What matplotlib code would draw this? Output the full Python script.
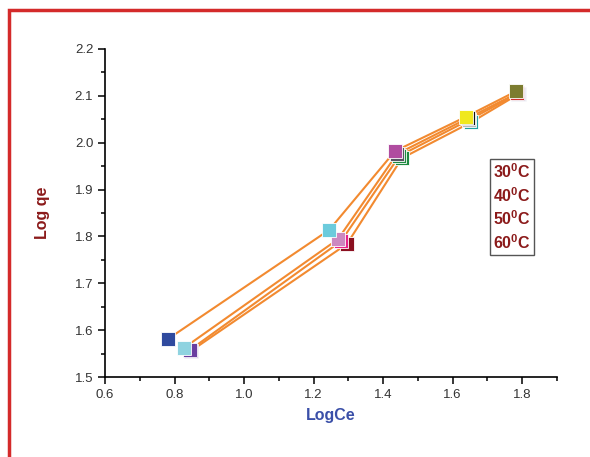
import matplotlib
matplotlib.use('Agg')
import matplotlib.pyplot as plt
from matplotlib.patches import Rectangle
from matplotlib.ticker import MultipleLocator

plt.rcParams['font.family'] = ['Liberation Sans', 'DejaVu Sans']
plt.rcParams['mathtext.fontset'] = 'custom'
plt.rcParams['mathtext.rm'] = 'Liberation Sans:bold'
plt.rcParams['mathtext.bf'] = 'Liberation Sans:bold'

# LogCe / Log qe for each temperature
temps = ['30', '40', '50', '60']
logce_30 = [0.781, 1.245, 1.434, 1.637, 1.783]
logqe_30 = [1.581, 1.814, 1.982, 2.055, 2.110]
logce_40 = [0.827, 1.270, 1.440, 1.643, 1.786]
logqe_40 = [1.562, 1.794, 1.976, 2.052, 2.106]
logce_50 = [0.845, 1.279, 1.447, 1.648, 1.788]
logqe_50 = [1.558, 1.790, 1.972, 2.049, 2.105]
logce_60 = [0.848, 1.296, 1.454, 1.654, 1.790]
logqe_60 = [1.556, 1.784, 1.967, 2.044, 2.104]

# every marker gets its own colour, as in the original Origin plot
colors_30 = ['#2f4a9e', '#6ccbdc', '#b04ca0', '#f0e81e', '#7c7c30']
colors_40 = ['#8fd3e0', '#cc88c0', '#555560', '#111111', '#d03030']
colors_50 = ['#6a3ea0', '#e8208a', '#1e8a40', '#b8b8b8', '#9090c0']
colors_60 = ['#6a3ea0', '#8b1020', '#1e8a40', '#20a0a0', '#9090c0']

series = [
    (logce_60, logqe_60, colors_60),
    (logce_50, logqe_50, colors_50),
    (logce_40, logqe_40, colors_40),
    (logce_30, logqe_30, colors_30),
]

fig = plt.figure(figsize=(5.9, 4.57), dpi=100)
fig.patches.append(Rectangle((9 / 590, -0.1), 1.1, (457 - 10) / 457 + 0.1,
                             transform=fig.transFigure, fill=False,
                             edgecolor='#d42a2a', linewidth=2.5))
ax = fig.add_axes([105 / 590, 80 / 457, 452 / 590, 328 / 457])

for x, y, cols in series:
    ax.plot(x, y, color='#f28a30', linewidth=1.5, zorder=2)
for x, y, cols in series:
    for xi, yi, c in zip(x, y, cols):
        ax.plot(xi, yi, marker='s', markersize=10, color=c,
                markeredgecolor='white', markeredgewidth=0.6, zorder=3)

ax.set_xlim(0.6, 1.9)
ax.set_ylim(1.5, 2.2)
ax.xaxis.set_minor_locator(MultipleLocator(0.1))
ax.yaxis.set_major_locator(MultipleLocator(0.1))
ax.yaxis.set_minor_locator(MultipleLocator(0.05))
ax.set_xticks([0.6, 0.8, 1.0, 1.2, 1.4, 1.6, 1.8])
ax.set_xticklabels(['0.6', '0.8', '1.0', '1.2', '1.4', '1.6', '1.8'])

for s in ['top', 'right']:
    ax.spines[s].set_visible(False)
for s in ['left', 'bottom']:
    ax.spines[s].set_linewidth(1.2)
ax.tick_params(which='major', direction='out', length=5, width=1.1,
               labelsize=9.5, labelcolor='#333333')
ax.tick_params(which='minor', direction='out', length=3, width=1.1)

ax.set_xlabel('LogCe', fontsize=11.5, fontweight='bold', color='#3a4fa8', labelpad=5)
ax.set_ylabel('Log qe', fontsize=11.5, fontweight='bold', color='#8b1a1a', labelpad=18)

label_text = '\n'.join(t + r'$^{0}$C' for t in temps)
ax.text(0.900, 0.518, label_text, transform=ax.transAxes, ha='center', va='center',
        fontsize=11.5, fontweight='bold', color='#8b1a1a', linespacing=1.3,
        bbox=dict(facecolor='white', edgecolor='#555555', linewidth=1.0,
                  boxstyle='square,pad=0.2'))

plt.savefig('out.png', dpi=100)
